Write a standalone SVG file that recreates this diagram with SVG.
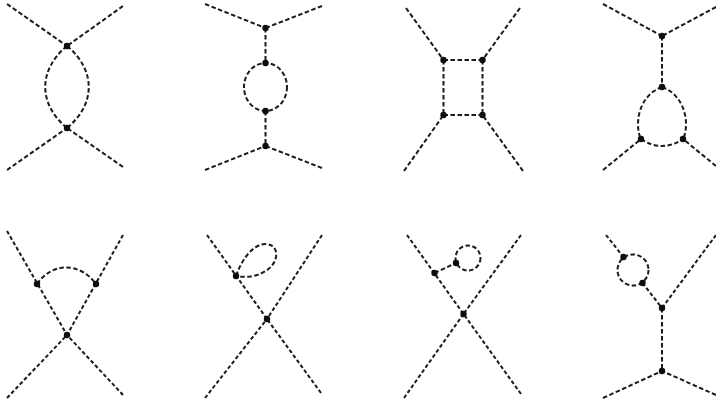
<svg xmlns="http://www.w3.org/2000/svg" width="716" height="404" viewBox="0 0 716 404">
<defs><filter id="soft" x="-5%" y="-5%" width="110%" height="110%"><feGaussianBlur stdDeviation="0.6"/></filter></defs>
<style>
.c{fill:none;stroke:#1a1a1a;stroke-width:2;stroke-dasharray:4.500 2.500}
.d{stroke-dasharray:3.800 2.400}
.v{fill:#111}
</style>
<rect width="716" height="404" fill="#fff"/>
<g filter="url(#soft)">
<g id="connectors">
<path class="c" d="M7 4L67 46M123 6L67 46M7 170L67 128M123 167L67 128M67 46C38 70 38 104 67 128M67 46C96 70 96 104 67 128"/>
<path class="c" d="M205 4L265.500 28M322 6L265.500 28M265.500 28V63M265.500 111V146M205 170L265.500 146M322 168L265.500 146"/>
<ellipse class="c" cx="265.500" cy="87" rx="21.500" ry="24"/>
<path class="c" d="M406 8L443.500 60M520 8L482.500 60M404 171L443.500 115M523 171L482.500 115M443.500 60H482.500M443.500 115H482.500M443.500 60V115M482.500 60V115"/>
<path class="c" d="M603 4L662 36M716 7L662 36M662 36V87M603 170L641 139M716 166L683 139M662 87C645 93 638 110 638 124Q638 133 641 139M662 87C679 93 686 110 686 124Q686 133 683 139M641 139Q662 153 683 139"/>
<path class="c d" d="M7 231L67 335M123 235L67 335M7 398L67 335M123 395L67 335"/>
<path class="c" d="M37 284C52 262 80 262 96 284"/>
<path class="c d" d="M207 235L267 319M322 235L267 319M205 398L267 319M321 393L267 319"/>
<path class="c" d="M236 276C243 256 255 244 265 244C274 244 277 250 276 257C274 268 262 275 250 276.500C245 277 240 277 236 276"/>
<path class="c d" d="M407 235L463.500 314M521 235L463.500 314M404 398L463.500 314M521 394L463.500 314"/>
<path class="c" d="M434.500 273L456 263"/>
<circle class="c" cx="468" cy="258" r="12.500"/>
<path class="c d" d="M606 235L623.500 257M642.500 283L662 308M716 235L662 308"/>
<path class="c" d="M662 308V371M603 398L662 371M716 395L662 371"/>
<circle class="c" cx="633" cy="270" r="15.500"/>
</g>
<g id="diagram-1"><circle class="v" cx="67" cy="46" r="3.200"/><circle class="v" cx="67" cy="128" r="3.200"/></g>
<g id="diagram-2"><circle class="v" cx="265.500" cy="28" r="3.200"/><circle class="v" cx="265.500" cy="63" r="3.200"/><circle class="v" cx="265.500" cy="111" r="3.200"/><circle class="v" cx="265.500" cy="146" r="3.200"/></g>
<g id="diagram-3"><circle class="v" cx="443.500" cy="60" r="3.200"/><circle class="v" cx="482.500" cy="60" r="3.200"/><circle class="v" cx="443.500" cy="115" r="3.200"/><circle class="v" cx="482.500" cy="115" r="3.200"/></g>
<g id="diagram-4"><circle class="v" cx="662" cy="36" r="3.200"/><circle class="v" cx="662" cy="87" r="3.200"/><circle class="v" cx="641" cy="139" r="3.200"/><circle class="v" cx="683" cy="139" r="3.200"/></g>
<g id="diagram-5"><circle class="v" cx="37" cy="284" r="3.200"/><circle class="v" cx="96" cy="284" r="3.200"/><circle class="v" cx="67" cy="335" r="3.200"/></g>
<g id="diagram-6"><circle class="v" cx="236" cy="276" r="3.200"/><circle class="v" cx="267" cy="319" r="3.200"/></g>
<g id="diagram-7"><circle class="v" cx="434.500" cy="273" r="3.200"/><circle class="v" cx="456" cy="263" r="3.200"/><circle class="v" cx="463.500" cy="314" r="3.200"/></g>
<g id="diagram-8"><circle class="v" cx="623.500" cy="257" r="3.200"/><circle class="v" cx="642.500" cy="283" r="3.200"/><circle class="v" cx="662" cy="308" r="3.200"/><circle class="v" cx="662" cy="371" r="3.200"/></g>
</g>
</svg>
